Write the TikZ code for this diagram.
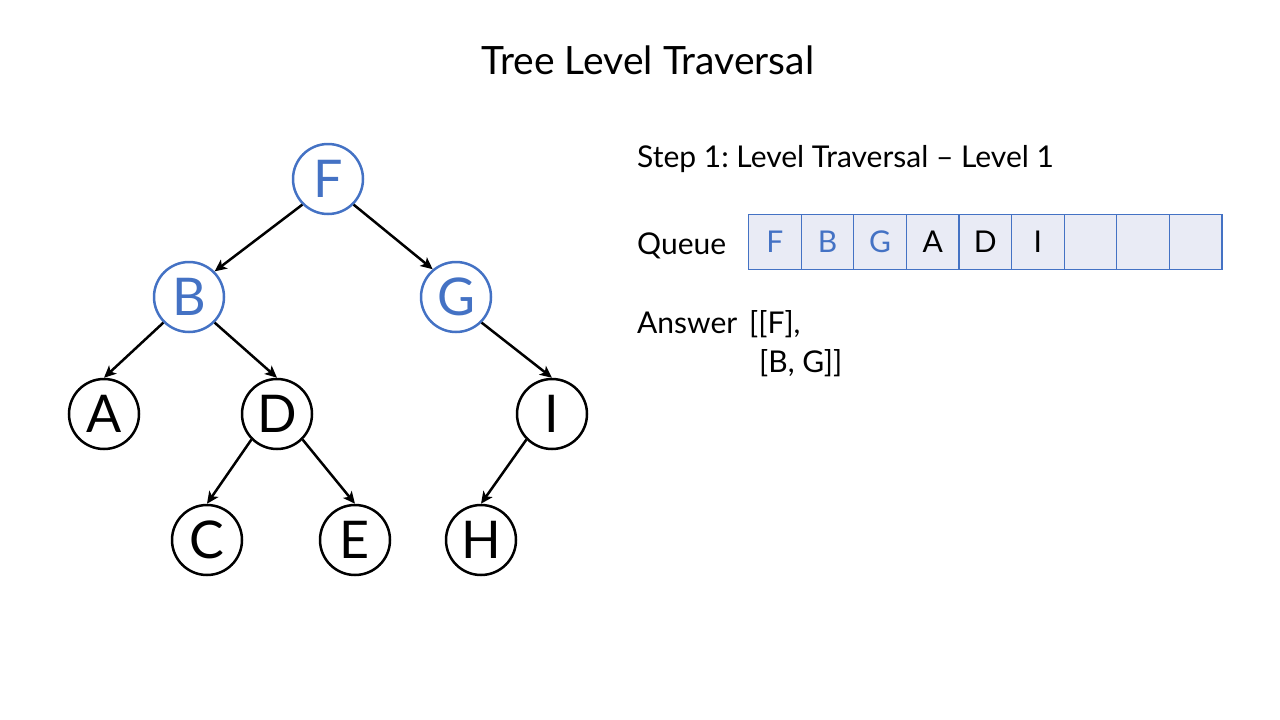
\documentclass[tikz,border=0pt]{standalone}
\usepackage{fontspec}
\setmainfont{Lato}
\usetikzlibrary{arrows.meta}
\definecolor{accent}{HTML}{4472C4}
\definecolor{cellfill}{HTML}{E9EBF5}
\frenchspacing
\begin{document}
\begin{tikzpicture}[x=1pt,y=-1pt,
  treenode/.style={circle,draw,line width=2.5pt,minimum size=70pt,inner sep=0pt,font=\fontsize{52}{56}\selectfont},
  visited/.style={treenode,draw=accent,text=accent},
  edge/.style={line width=2.5pt,-{Stealth[length=12pt,width=11pt,inset=3pt]}},
  label/.style={anchor=base west,inner sep=0pt,font=\fontsize{30}{34}\selectfont},
  cell/.style={draw=accent,fill=cellfill,line width=1.2pt,minimum width=52.6pt,minimum height=55pt,inner sep=0pt,anchor=north west,font=\fontsize{30}{34}\selectfont}
]
\useasboundingbox (0,0) rectangle (1280,720);

% title
\node[anchor=base,inner sep=0pt,font=\fontsize{39}{43}\selectfont] (title) at (648,74) {Tree Level Traversal};

% tree
\node[visited] (F) at (328,179) {F};
\node[visited] (B) at (189,297) {B};
\node[visited] (G) at (456,297) {G};
\node[treenode] (A) at (104,414) {A};
\node[treenode] (D) at (277,414) {D};
\node[treenode] (I) at (552,414) {I};
\node[treenode] (C) at (207,540) {C};
\node[treenode] (E) at (355,540) {E};
\node[treenode] (H) at (481,540) {H};

\draw[edge] (F.south west) -- (B.north east);
\draw[edge] (F.south east) -- (G.130);
\draw[edge] (B.south west) -- (A.north);
\draw[edge] (B.south east) -- (D.north);
\draw[edge] (G.south east) -- (I.north);
\draw[edge] (D.south west) -- (C.north);
\draw[edge] (D.south east) -- (E.north);
\draw[edge] (I.south west) -- (H.north);

% step caption
\node[label] (step) at (637,167) {Step 1: Level Traversal – Level 1};

% queue
\node[label] (queue) at (637,254) {Queue};
\node[cell,text=accent] (q1) at (748.0,214) {F};
\node[cell,text=accent] (q2) at (800.6,214) {B};
\node[cell,text=accent] (q3) at (853.2,214) {G};
\node[cell] (q4) at (905.8,214) {A};
\node[cell] (q5) at (958.4,214) {D};
\node[cell] (q6) at (1011.0,214) {I};
\node[cell] (q7) at (1063.6,214) {};
\node[cell] (q8) at (1116.2,214) {};
\node[cell] (q9) at (1168.8,214) {};

% answer
\node[label] (answer) at (637,333) {Answer};
\node[label] (ans1) at (749,333) {[[F],};
\node[label] (ans2) at (759,372) {[B, G]]};
\end{tikzpicture}
\end{document}
